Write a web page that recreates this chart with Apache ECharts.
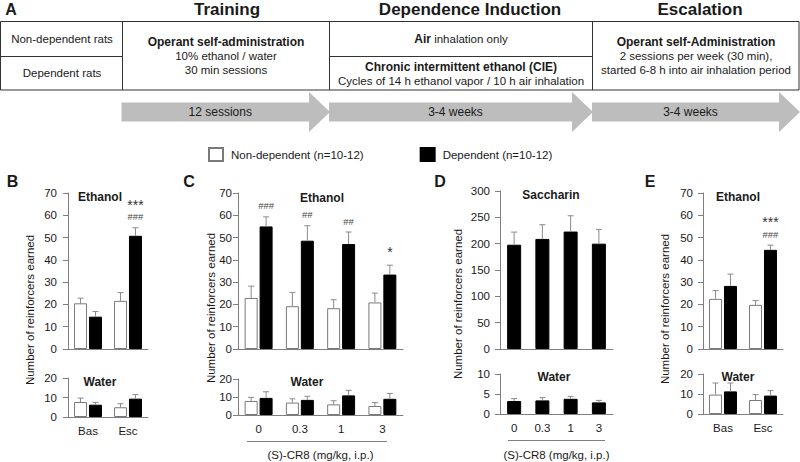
<!DOCTYPE html>
<html><head><meta charset="utf-8">
<script src="https://cdn.jsdelivr.net/npm/echarts@6/dist/echarts.min.js"></script>
<style>html,body{margin:0;padding:0;background:#fff}#c{width:800px;height:462px}</style>
</head><body><div id="c"></div>
<script>
// ---------- DATA ----------
const sessionsBE = ['Bas', 'Esc'];
const doses = ['0', '0.3', '1', '3'];
const seriesNames = ['Non-dependent (n=10-12)', 'Dependent (n=10-12)'];
const doseAxisTitle = '(S)-CR8 (mg/kg, i.p.)';
const yTitle = 'Number of reinforcers earned';

// Panel B
const bEthNonDep = [20.5, 21.6], bEthNonDepSem = [2.3, 3.7];
const bEthDep = [14.5, 50.8], bEthDepSem = [2.3, 3.6];
const bWatNonDep = [7.7, 5.0], bWatNonDepSem = [2.0, 1.8];
const bWatDep = [6.3, 9.4], bWatDepSem = [1.2, 2.1];
const bEthMarks = ['', '***\n###'];
// Panel C
const cEthNonDep = [22.9, 19.2, 18.3, 20.9], cEthNonDepSem = [5.3, 6.2, 3.8, 4.2];
const cEthDep = [55.0, 48.6, 47.1, 33.4], cEthDepSem = [4.3, 6.7, 5.4, 4.2];
const cWatNonDep = [7.8, 6.9, 5.9, 5.0], cWatNonDepSem = [2.0, 2.1, 2.0, 1.9];
const cWatDep = [9.5, 8.4, 10.9, 9.0], cWatDepSem = [3.4, 2.0, 2.8, 3.0];
const cEthMarks = ['###', '##', '##', '*'];
// Panel D
const dSac = [198, 209, 223, 200], dSacSem = [24, 27, 30, 27];
const dWat = [3.25, 3.4, 3.8, 2.9], dWatSem = [0.6, 0.7, 0.6, 0.5];
// Panel E
const eEthNonDep = [22.5, 19.8], eEthNonDepSem = [3.7, 1.9];
const eEthDep = [28.3, 44.5], eEthDepSem = [5.3, 2.1];
const eWatNonDep = [9.7, 7.0], eWatNonDepSem = [5.8, 2.7];
const eWatDep = [11.3, 9.2], eWatDepSem = [4.2, 2.5];
const eEthMarks = ['', '***\n###'];

// Y scales [max, interval]
const ethScale = [70, 10], watScale = [20, 10], sacScale = [300, 50], dWatScale = [10, 5];

// ---------- LAYOUT / STYLE ----------
const FONT = "'Liberation Sans', Arial, Helvetica, sans-serif";
const TXT = '#1a1a1a';
const AX = '#7f7f7f';
const ERR = '#8a8a8a';

const grids = [
  {left: 68, top: 193, width: 80, height: 156},   // B eth
  {left: 68, top: 378, width: 80, height: 39},    // B water
  {left: 238, top: 193, width: 165, height: 156}, // C eth
  {left: 238, top: 379, width: 165, height: 39},  // C water
  {left: 500, top: 191, width: 113, height: 158}, // D sac
  {left: 500, top: 374, width: 113, height: 42},  // D water
  {left: 703, top: 193, width: 80, height: 156},  // E eth
  {left: 703, top: 374, width: 80, height: 40}    // E water
];
const labelMargins = [11, 11, 6, 6, 10, 10, 10, 10];
const cats = [sessionsBE, sessionsBE, doses, doses, doses, doses, sessionsBE, sessionsBE];
const scales = [ethScale, watScale, ethScale, watScale, sacScale, dWatScale, ethScale, watScale];

const xAxes = grids.map((g, i) => ({
  gridIndex: i, type: 'category', data: cats[i],
  axisLine: {lineStyle: {color: AX, width: 1}},
  axisTick: {show: false},
  axisLabel: {show: i % 2 === 1, color: TXT, fontSize: 11.5, fontFamily: FONT, margin: 8},
  name: (i === 3 || i === 5) ? doseAxisTitle : '',
  nameLocation: 'middle', nameGap: i === 3 ? 34 : 35,
  nameTextStyle: {color: TXT, fontSize: 11.5, fontFamily: FONT}
}));
const yAxes = grids.map((g, i) => ({
  gridIndex: i, type: 'value', min: 0, max: scales[i][0], interval: scales[i][1],
  axisLine: {show: true, lineStyle: {color: AX, width: 1}},
  axisTick: {show: true, length: 5, lineStyle: {color: AX}},
  splitLine: {show: false},
  axisLabel: {color: TXT, fontSize: 11.5, fontFamily: FONT, margin: labelMargins[i]}
}));

const BW = 13, GAP = '15%', OFF = 7.475;
function bar(nameIdx, gi, data, width, gap) {
  const white = nameIdx === 0;
  return {
    name: seriesNames[nameIdx], type: 'bar', xAxisIndex: gi, yAxisIndex: gi,
    data: data, barWidth: width, barGap: gap, silent: true,
    itemStyle: {color: white ? '#ffffff' : '#000000', borderColor: white ? '#7a7a7a' : '#000000', borderWidth: 1}
  };
}
function err(gi, means, sems, offset) {
  return {
    type: 'custom', xAxisIndex: gi, yAxisIndex: gi, silent: true, z: 5,
    data: means.map((m, i) => [i, m, m + sems[i]]),
    renderItem: (p, api) => {
      const a = api.coord([api.value(0), api.value(1)]);
      const b = api.coord([api.value(0), api.value(2)]);
      const x = a[0] + offset;
      return {type: 'group', children: [
        {type: 'line', shape: {x1: x, y1: a[1], x2: x, y2: b[1]}, style: {stroke: ERR, lineWidth: 1}},
        {type: 'line', shape: {x1: x - 3, y1: b[1], x2: x + 3, y2: b[1]}, style: {stroke: ERR, lineWidth: 1}}
      ]};
    }
  };
}
const markRich = {
  s: {fontSize: 14, lineHeight: 14, fontFamily: FONT, fill: '#333'},
  h: {fontSize: 9.5, lineHeight: 10, fontFamily: FONT, fill: '#444'}
};
function marks(gi, means, sems, labels, offset) {
  return {
    type: 'custom', xAxisIndex: gi, yAxisIndex: gi, silent: true, z: 6,
    data: means.map((m, i) => [i, m + sems[i]]),
    renderItem: (p, api) => {
      const t = labels[p.dataIndex];
      if (!t) return null;
      const b = api.coord([api.value(0), api.value(1)]);
      const rt = t.split('\n').map(l => (l.charAt(0) === '*' ? '{s|' : '{h|') + l + '}').join('\n');
      return {type: 'text', x: b[0] + offset, y: b[1] - 6, style: {
        text: rt, rich: markRich, fill: '#333', fontSize: 11, fontFamily: FONT,
        align: 'center', verticalAlign: 'bottom'
      }};
    }
  };
}

const series = [
  bar(0, 0, bEthNonDep, BW, GAP), bar(1, 0, bEthDep, BW, GAP),
  err(0, bEthNonDep, bEthNonDepSem, -OFF), err(0, bEthDep, bEthDepSem, OFF), marks(0, bEthDep, bEthDepSem, bEthMarks, OFF),
  bar(0, 1, bWatNonDep, BW, GAP), bar(1, 1, bWatDep, BW, GAP),
  err(1, bWatNonDep, bWatNonDepSem, -OFF), err(1, bWatDep, bWatDepSem, OFF),
  bar(0, 2, cEthNonDep, BW, GAP), bar(1, 2, cEthDep, BW, GAP),
  err(2, cEthNonDep, cEthNonDepSem, -OFF), err(2, cEthDep, cEthDepSem, OFF), marks(2, cEthDep, cEthDepSem, cEthMarks, OFF),
  bar(0, 3, cWatNonDep, BW, GAP), bar(1, 3, cWatDep, BW, GAP),
  err(3, cWatNonDep, cWatNonDepSem, -OFF), err(3, cWatDep, cWatDepSem, OFF),
  bar(1, 4, dSac, 14, '0%'), err(4, dSac, dSacSem, 0),
  bar(1, 5, dWat, 14, '0%'), err(5, dWat, dWatSem, 0),
  bar(0, 6, eEthNonDep, BW, GAP), bar(1, 6, eEthDep, BW, GAP),
  err(6, eEthNonDep, eEthNonDepSem, -OFF), err(6, eEthDep, eEthDepSem, OFF), marks(6, eEthDep, eEthDepSem, eEthMarks, OFF),
  bar(0, 7, eWatNonDep, BW, GAP), bar(1, 7, eWatDep, BW, GAP),
  err(7, eWatNonDep, eWatNonDepSem, -OFF), err(7, eWatDep, eWatDepSem, OFF)
];

// ---------- GRAPHIC (schematic, labels) ----------
function txt(x, y, text, size, bold, extra) {
  return Object.assign({type: 'text', x: x, y: y, silent: true, style: {
    text: text, fill: TXT, fontSize: size, fontFamily: FONT, fontWeight: bold ? 'bold' : 'normal',
    align: 'center', verticalAlign: 'middle'
  }}, extra || {});
}
function ln(x1, y1, x2, y2, color) {
  return {type: 'line', silent: true, shape: {x1, y1, x2, y2}, style: {stroke: color || '#333', lineWidth: 1}};
}
function arrow(x0, xh, xt, label) {
  return [
    {type: 'polygon', silent: true, shape: {points: [[x0, 102.5], [xh, 102.5], [xh, 92], [xt, 112], [xh, 132], [xh, 121.5], [x0, 121.5]]},
     style: {fill: '#bdbdbd'}},
    txt((x0 + xh) / 2 + 5, 112, label, 12, false, {z: 10})
  ];
}
const rich = {b: {fontWeight: 'bold', fontSize: 12, fontFamily: FONT, fill: TXT}};
const graphic = [
  txt(11, 9, 'A', 16, true),
  txt(227, 9, 'Training', 17, true),
  txt(470, 9, 'Dependence Induction', 17, true),
  txt(700, 9, 'Escalation', 17, true),
  {type: 'rect', silent: true, shape: {x: 0.5, y: 21.5, width: 798.5, height: 68.5}, style: {fill: 'none', stroke: '#333', lineWidth: 1}},
  ln(122.5, 21.5, 122.5, 90), ln(329.5, 21.5, 329.5, 90), ln(592.5, 21.5, 592.5, 90),
  ln(0.5, 56.5, 122.5, 56.5), ln(329.5, 56.5, 592.5, 56.5),
  txt(62, 38.5, 'Non-dependent rats', 11.5, false),
  txt(62, 73, 'Dependent rats', 11.5, false),
  txt(226, 42, 'Operant self-administration', 12, true),
  txt(226, 56, '10% ethanol / water', 11.5, false),
  txt(226, 70, '30 min sessions', 11.5, false),
  {type: 'text', x: 461, y: 38.5, silent: true, style: {text: '{b|Air} inhalation only', rich: rich, fill: TXT, fontSize: 11.5, fontFamily: FONT, align: 'center', verticalAlign: 'middle'}},
  txt(461, 67, 'Chronic intermittent ethanol (CIE)', 12, true),
  txt(461, 80.5, 'Cycles of 14 h ethanol vapor / 10 h air inhalation', 11.5, false),
  txt(696, 42, 'Operant self-Administration', 12, true),
  txt(696, 56, '2 sessions per week (30 min),', 11.5, false),
  txt(696, 70, 'started 6-8 h into air inhalation period', 11.5, false)
]
.concat(arrow(121.5, 309, 330, '12 sessions'))
.concat(arrow(329, 572, 593, '3-4 weeks'))
.concat(arrow(592, 779, 800, '3-4 weeks'))
.concat([
  txt(12.5, 181, 'B', 16, true), txt(189, 181, 'C', 16, true), txt(440, 181, 'D', 16, true), txt(650, 181, 'E', 16, true),
  txt(30, 310, yTitle, 11.5, false, {rotation: Math.PI / 2}),
  txt(211, 308, yTitle, 11.5, false, {rotation: Math.PI / 2}),
  txt(458, 304, yTitle, 11.5, false, {rotation: Math.PI / 2}),
  txt(665, 309, yTitle, 11.5, false, {rotation: Math.PI / 2}),
  txt(100, 197, 'Ethanol', 12, true), txt(100, 382, 'Water', 12, true),
  txt(322, 198, 'Ethanol', 12, true), txt(307, 382, 'Water', 12, true),
  txt(551, 195, 'Saccharin', 12, true), txt(554, 377, 'Water', 12, true),
  txt(738, 197, 'Ethanol', 12, true), txt(738, 377, 'Water', 12, true),
  ln(247, 441.5, 387, 441.5, AX), ln(508, 440.5, 605, 440.5, AX)
]);

const chart = echarts.init(document.getElementById('c'), null, {renderer: 'svg'});
chart.setOption({
  animation: false,
  backgroundColor: '#ffffff',
  textStyle: {fontFamily: FONT},
  legend: {
    left: 203, top: 142, itemWidth: 14, itemHeight: 13, itemGap: 56, selectedMode: false,
    data: seriesNames, icon: 'rect',
    textStyle: {color: TXT, fontSize: 11.5, fontFamily: FONT, padding: [0, 0, 0, 3]}
  },
  grid: grids.map(g => Object.assign({containLabel: false}, g)),
  xAxis: xAxes,
  yAxis: yAxes,
  series: series,
  graphic: graphic
});
</script></body></html>
